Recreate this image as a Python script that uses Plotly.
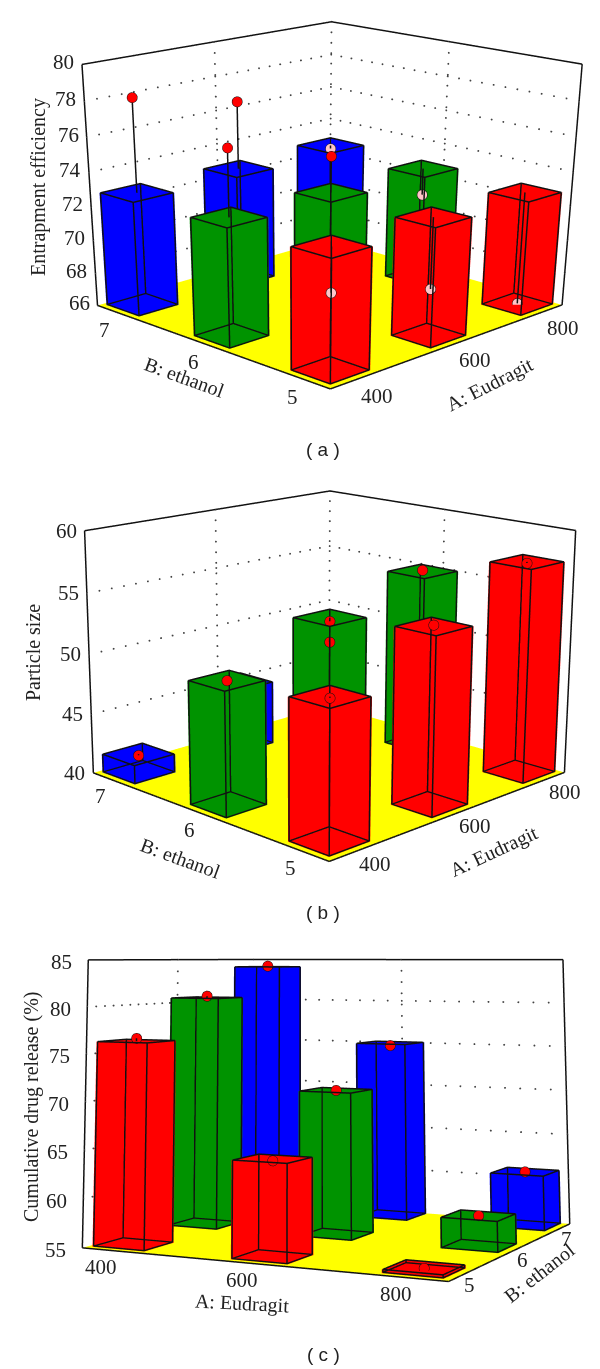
import plotly.graph_objects as go

# ---------- data ----------
A_LEVELS = [400, 600, 800]
B_LEVELS = [5, 6, 7]
A_RANGE = [352, 848]
B_RANGE = [4.76, 7.24]
BAR_HALF_A = 37.5
BAR_HALF_B = 0.1875
B_COLORS = {5: "#ff0000", 6: "#009300", 7: "#0000ff"}

# bar heights: rows are B=5,6,7; columns are A=400,600,800
bars_a = [[72.9, 72.9, 72.8], [72.9, 72.8, 72.8], [72.8, 72.8, 72.9]]
bars_b = [[51.0, 54.2, 57.5], [50.0, 53.0, 55.1], [41.6, 45.5, 44.3]]
bars_c = [[76.3, 64.8, 55.4], [80.6, 70.6, 58.2], [84.1, 75.1, 61.0]]

# measured points: A, B, value, below-the-surface flag
pts_a_A = [400, 600, 400, 800, 600, 400, 800, 600, 800]
pts_a_B = [7, 7, 6, 7, 6, 5, 6, 5, 5]
pts_a_v = [78.2, 76.8, 76.7, 72.7, 74.9, 70.4, 71.2, 68.8, 66.1]
pts_a_hidden = [0, 0, 0, 1, 0, 1, 1, 1, 1]

pts_b_A = [400, 600, 400, 600, 600, 400, 600, 800, 800]
pts_b_B = [7, 7, 6, 6, 6, 5, 5, 5, 6]
pts_b_v = [41.5, 45.4, 50.0, 52.7, 51.0, 50.9, 54.3, 57.4, 55.2]
pts_b_hidden = [0] * 9

pts_c_A = [400, 400, 400, 600, 600, 600, 800, 800, 800]
pts_c_B = [5, 6, 7, 5, 6, 7, 5, 6, 7]
pts_c_v = [76.6, 80.8, 84.2, 64.6, 70.6, 74.8, 55.3, 58.2, 61.0]
pts_c_hidden = [0] * 9

z_ticks_a = [66, 68, 70, 72, 74, 76, 78, 80]
z_ticks_b = [40, 45, 50, 55, 60]
z_ticks_c = [55, 60, 65, 70, 75, 80, 85]

FLAT = dict(ambient=1, diffuse=0, specular=0, fresnel=0)
PAD = 0.004


def add_panel(fig, scene, bars, pA, pB, pV, hidden, zticks, far_a, eye, center, asp,
              a_shift, b_shift, z_shift, axis_a):
    z0, z1 = zticks[0], zticks[-1]
    a0, a1 = A_RANGE
    b0, b1 = B_RANGE
    eps = (z1 - z0) * 0.002

    fig.add_trace(go.Mesh3d(x=[a0, a1, a1, a0], y=[b0, b0, b1, b1], z=[z0] * 4,
                            i=[0, 0], j=[1, 2], k=[2, 3], color="#ffff00", flatshading=True,
                            lighting=FLAT, hoverinfo="skip", scene=scene))
    # only the faces turned from the viewer are filled, so all twelve edges stay visible
    ex, ey, ez = [], [], []
    for r, b in enumerate(B_LEVELS):
        for c, a in enumerate(A_LEVELS):
            top = bars[r][c]
            xl, xh = a - BAR_HALF_A, a + BAR_HALF_A
            yl, yh = b - BAR_HALF_B, b + BAR_HALF_B
            zl = z0 + 2 * eps
            dx, dy = 1.0, 0.005
            xf = xh + dx if far_a == a1 else xl - dx
            yf = yh + dy
            Xl, Xh = xl - dx, xh + dx
            Yl = yl - dy
            zb = z0 + eps
            X = [xf, xf, xf, xf, Xl, Xh, Xh, Xl, Xl, Xh, Xh, Xl]
            Y = [Yl, yf, yf, Yl, yf, yf, yf, yf, Yl, Yl, yf, yf]
            Z = [zb, zb, top, top, zb, zb, top, top, zb, zb, zb, zb]
            I, J, K = [], [], []
            for q in range(3):
                s = q * 4
                I += [s, s]
                J += [s + 1, s + 2]
                K += [s + 2, s + 3]
            fig.add_trace(go.Mesh3d(x=X, y=Y, z=Z, i=I, j=J, k=K, color=B_COLORS[b], flatshading=True,
                                    lighting=FLAT, hoverinfo="skip", scene=scene))
            loop = [(xl, yl), (xh, yl), (xh, yh), (xl, yh), (xl, yl)]
            for zz in (zl, top):
                for p in loop:
                    ex.append(p[0]); ey.append(p[1]); ez.append(zz)
                ex.append(None); ey.append(None); ez.append(None)
            for p in loop[:4]:
                ex += [p[0], p[0], None]; ey += [p[1], p[1], None]; ez += [zl, top, None]
    fig.add_trace(go.Scatter3d(x=ex, y=ey, z=ez, mode="lines", line=dict(color="#111111", width=3),
                               hoverinfo="skip", scene=scene))
    sx, sy, sz = [], [], []
    for a, b, v in zip(pA, pB, pV):
        top = bars[B_LEVELS.index(b)][A_LEVELS.index(a)]
        sx += [a, a, None]; sy += [b, b, None]; sz += [top, v, None]
    fig.add_trace(go.Scatter3d(x=sx, y=sy, z=sz, mode="lines", line=dict(color="#111111", width=3),
                               hoverinfo="skip", scene=scene))
    fig.add_trace(go.Scatter3d(x=pA, y=pB, z=pV, mode="markers",
                               marker=dict(size=6, color=["#ffc4c8" if h else "#ff0000" for h in hidden],
                                           line=dict(color="#111111", width=1)),
                               hoverinfo="skip", scene=scene))
    if far_a == a1:   # viewer at low A, low B: walls at high A and high B
        fx = [a0, a1, None, a0, a0, None, a1, a1, None, a0, a0, None, a0, a1, None, a1, a1]
        fy = [b0, b0, None, b0, b1, None, b0, b0, None, b1, b1, None, b1, b1, None, b1, b0]
        fz = [z0, z0, None, z0, z0, None, z0, z1, None, z0, z1, None, z1, z1, None, z1, z1]
        wall_x = a1
    else:             # viewer at high A, low B: walls at low A and high B
        fx = [a0, a1, None, a1, a1, None, a0, a0, None, a1, a1, None, a0, a0, None, a0, a1]
        fy = [b0, b0, None, b0, b1, None, b0, b0, None, b1, b1, None, b0, b1, None, b1, b1]
        fz = [z0, z0, None, z0, z0, None, z0, z1, None, z0, z1, None, z1, z1, None, z1, z1]
        wall_x = a0
    fig.add_trace(go.Scatter3d(x=fx, y=fy, z=fz, mode="lines", line=dict(color="#111111", width=3),
                               hoverinfo="skip", scene=scene))
    # dotted grid on the two walls
    n = 22
    gx, gy, gz = [], [], []
    for t in zticks[1:-1]:
        for i in range(n + 1):
            f = i / n
            gx.append(wall_x); gy.append(b0 + (b1 - b0) * f); gz.append(t)
            gx.append(a0 + (a1 - a0) * f); gy.append(b1); gz.append(t)
    for i in range(n + 1):
        zz = z0 + (z1 - z0) * i / n
        gx += [wall_x, (a0 + a1) / 2, wall_x]
        gy += [(b0 + b1) / 2, b1, b1]
        gz += [zz, zz, zz]
    fig.add_trace(go.Scatter3d(x=gx, y=gy, z=gz, mode="markers",
                               marker=dict(size=1.1, color="#444444", line=dict(width=0)),
                               hoverinfo="skip", scene=scene))

    def note(x, y, z, text, xs, ys, xa="center"):
        return dict(x=x, y=y, z=z, text=text, showarrow=False, xanchor=xa, yanchor="middle", xshift=xs, yshift=ys,
                    font=dict(family="Liberation Serif", size=21, color="#222222"))

    anns = []
    lx, ly = axis_a
    for t in zticks:
        anns.append(note(lx, ly, t, str(t), z_shift[0], z_shift[1], "right"))
    for a in A_LEVELS:
        anns.append(note(a, b0, z0, str(a), a_shift[0], a_shift[1]))
    b_edge = a0 if far_a == a1 else a1
    for b in B_LEVELS:
        anns.append(note(b_edge, b, z0, str(b), b_shift[0], b_shift[1]))

    ax = dict(visible=False, showspikes=False)
    pa, pb, pz = (a1 - a0) * PAD, (b1 - b0) * PAD, (z1 - z0) * PAD
    fig.update_layout(**{scene: dict(
        domain=dict(x=[0, 1], y=[0, 1]), bgcolor="rgba(0,0,0,0)",
        xaxis=dict(range=[a0 - pa, a1 + pa], **ax), yaxis=dict(range=[b0 - pb, b1 + pb], **ax),
        zaxis=dict(range=[z0 - pz, z1 + pz], **ax),
        aspectmode="manual", aspectratio=dict(x=1, y=asp[0], z=asp[1]),
        camera=dict(eye=dict(x=eye[0], y=eye[1], z=eye[2]), center=dict(x=center[0], y=center[1], z=center[2]),
                    up=dict(x=0, y=0, z=1), projection=dict(type="perspective")),
        annotations=anns, dragmode=False)})


fig = go.Figure()
add_panel(fig, "scene", bars_a, pts_a_A, pts_a_B, pts_a_v, pts_a_hidden, z_ticks_a, A_RANGE[1],
          (-3.46, -3.369, 1.226), (-0.401, -0.278, -1.38), (0.983, 0.692),
          (21, -16), (-13, -17), (-6, 2), (A_RANGE[0], B_RANGE[1]))
add_panel(fig, "scene2", bars_b, pts_b_A, pts_b_B, pts_b_v, pts_b_hidden, z_ticks_b, A_RANGE[1],
          (-3.304, -3.226, 1.224), (-0.059, 0.062, -0.092), (0.981, 0.729),
          (20, -12), (-13, -16), (-6, 0), (A_RANGE[0], B_RANGE[1]))
add_panel(fig, "scene3", bars_c, pts_c_A, pts_c_B, pts_c_v, pts_c_hidden, z_ticks_c, A_RANGE[0],
          (1.9355, -4.1236, 0.3666), (-0.2878, 0.3631, 1.1931), (0.9248, 0.7254),
          (-13, -16), (7, -10), (-14, -2), (A_RANGE[0], B_RANGE[0]))


def title(text, px, py, angle, size=20, family="Liberation Serif"):
    return dict(text=text, x=px / 600, y=1 - py / 1369, xref="paper", yref="paper", showarrow=False,
                xanchor="center", yanchor="middle", textangle=angle,
                font=dict(family=family, size=size, color="#222222"))


fig.update_layout(
    width=600, height=1369, margin=dict(l=0, r=0, t=0, b=0), paper_bgcolor="white", showlegend=False,
    annotations=[
        title("Entrapment efficiency", 38, 187, -90),
        title("B: ethanol", 184, 377, 20),
        title("A: Eudragit", 490, 385, -27),
        title("( a )", 323, 450, 0, 19, "Liberation Sans"),
        title("Particle size", 33, 653, -90),
        title("B: ethanol", 180, 858, 20),
        title("A: Eudragit", 494, 852, -25),
        title("( b )", 323, 913, 0, 19, "Liberation Sans"),
        title("Cumulative drug release (%)", 31, 1107, -90),
        title("A: Eudragit", 242, 1303, 3),
        title("B: ethanol", 539, 1273, -38),
        title("( c )", 323, 1354, 0, 19, "Liberation Sans"),
    ],
)
fig.write_html("out.html", config=dict(displayModeBar=False),
               post_script="document.body.style.margin='0';")
